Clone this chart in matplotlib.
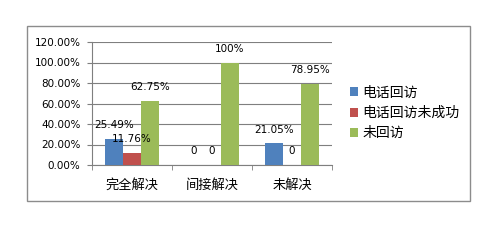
import numpy as np
import matplotlib.pyplot as plt
from matplotlib.patches import Rectangle

plt.rcParams['font.family'] = ['Noto Sans CJK SC', 'DejaVu Sans']

# Data
categories = ["完全解决", "间接解决", "未解决"]
series = ["电话回访", "电话回访未成功", "未回访"]
values = [
    [0.2549, 0.0, 0.2105],    # 电话回访
    [0.1176, 0.0, 0.0],       # 电话回访未成功
    [0.6275, 1.0, 0.7895],    # 未回访
]
labels = [
    ["25.49%", "0", "21.05%"],
    ["11.76%", "0", "0"],
    ["62.75%", "100%", "78.95%"],
]
colors = ["#4F81BD", "#C0504D", "#9BBB59"]
yticks = [0, 0.2, 0.4, 0.6, 0.8, 1.0, 1.2]

fig = plt.figure(figsize=(5.02, 2.42), dpi=100)
fig.patches.append(Rectangle((27 / 502, 1 - 201 / 242), 443 / 502, 175 / 242,
                             transform=fig.transFigure, fill=False,
                             edgecolor="#8c8c8c", linewidth=1.0))

ax = fig.add_axes([92 / 502, 1 - 165 / 242, 240 / 502, 123 / 242])

x = np.arange(len(categories))
w = 0.225
handles = []
for i, s in enumerate(series):
    pos = x + (i - 1) * w
    b = ax.bar(pos, values[i], width=w, color=colors[i], label=s, zorder=3)
    handles.append(b)
    for px, v, t in zip(pos, values[i], labels[i]):
        ax.annotate(t, (px, v), xytext=(0, 10), textcoords="offset points",
                    ha="center", va="center", fontsize=7.5,
                    family="DejaVu Sans", zorder=4)

ax.set_xlim(-0.5, 2.5)
ax.set_ylim(0, 1.2)
ax.set_yticks(yticks)
ax.set_yticklabels(["%.2f%%" % (t * 100) for t in yticks],
                   fontsize=7.5, family="DejaVu Sans")
ax.yaxis.grid(True, color="#7f7f7f", linewidth=0.8, zorder=0)
ax.set_axisbelow(True)

ax.set_xticks(x)
ax.set_xticklabels(categories, fontsize=9.5)
ax.tick_params(axis="x", which="major", length=0, pad=10)
ax.set_xticks([-0.5, 0.5, 1.5, 2.5], minor=True)
ax.tick_params(axis="x", which="minor", length=3.4, color="#7f7f7f")
ax.tick_params(axis="y", length=3.4, color="#7f7f7f", pad=5)

for sp in ["top", "right"]:
    ax.spines[sp].set_visible(False)
for sp in ["left", "bottom"]:
    ax.spines[sp].set_color("#7f7f7f")

fig.legend(handles=handles, labels=series, loc="center left",
           bbox_to_anchor=(350 / 502, 1 - 113 / 242), frameon=False,
           fontsize=10, handlelength=0.6, handleheight=0.6,
           handletextpad=0.3, labelspacing=0.45, borderpad=0,
           borderaxespad=0)

fig.savefig("out.png", dpi=100)
